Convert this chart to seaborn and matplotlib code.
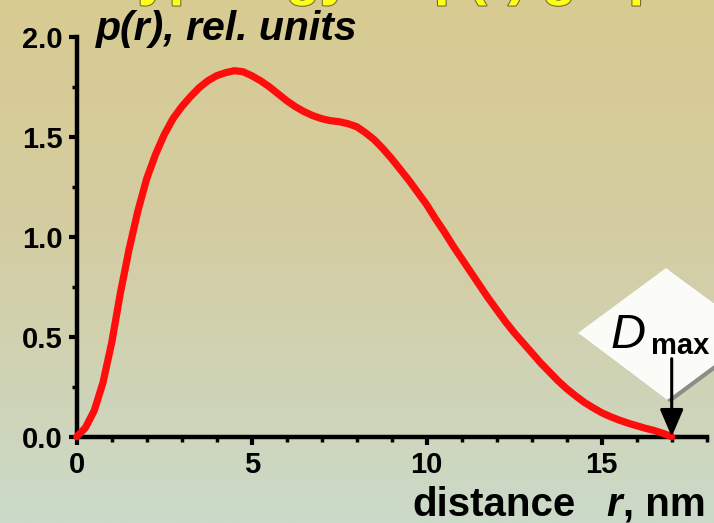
import numpy as np
import matplotlib
matplotlib.use("Agg")
import matplotlib.pyplot as plt
import seaborn as sns
from matplotlib.patches import Polygon
from matplotlib.colors import LinearSegmentedColormap
from matplotlib.ticker import FixedLocator, MultipleLocator
import matplotlib.patheffects as pe

# Pair-distance distribution p(r) of the particle
distance_nm = [0.0, 0.25, 0.5, 0.75, 1.0, 1.25, 1.5, 1.75, 2.0, 2.25, 2.5, 2.75,
               3.0, 3.25, 3.5, 3.75, 4.0, 4.25, 4.5, 4.75, 5.0, 5.25, 5.5, 5.75,
               6.0, 6.25, 6.5, 6.75, 7.0, 7.25, 7.5, 7.75, 8.0, 8.25, 8.5, 8.75,
               9.0, 9.25, 9.5, 9.75, 10.0, 10.25, 10.5, 10.75, 11.0, 11.25, 11.5,
               11.75, 12.0, 12.25, 12.5, 12.75, 13.0, 13.25, 13.5, 13.75, 14.0,
               14.25, 14.5, 14.75, 15.0, 15.25, 15.5, 15.75, 16.0, 16.25, 16.5,
               16.75, 17.0]
p_r = [0.0, 0.045, 0.13, 0.27, 0.47, 0.72, 0.94, 1.13, 1.29, 1.41, 1.51, 1.59,
       1.65, 1.70, 1.745, 1.78, 1.805, 1.82, 1.83, 1.825, 1.805, 1.78, 1.75, 1.715,
       1.68, 1.65, 1.625, 1.605, 1.59, 1.58, 1.575, 1.565, 1.55, 1.52, 1.485, 1.44,
       1.39, 1.335, 1.28, 1.22, 1.16, 1.09, 1.025, 0.955, 0.89, 0.825, 0.76,
       0.695, 0.635, 0.575, 0.52, 0.47, 0.42, 0.37, 0.325, 0.28, 0.24,
       0.205, 0.172, 0.145, 0.12, 0.10, 0.083, 0.068, 0.055, 0.042, 0.031,
       0.017, 0.0]
d_max = 17.0

x_ticks = [0, 5, 10, 15]
y_ticks = [0.0, 0.5, 1.0, 1.5, 2.0]
y_tick_labels = ["0.0", "0.5", "1.0", "1.5", "2.0"]

sns.set_theme(style="ticks")
plt.rcParams["font.family"] = ["Liberation Sans", "DejaVu Sans"]
plt.rcParams["font.weight"] = "bold"

W, H = 714, 523
fig = plt.figure(figsize=(W / 100, H / 100), dpi=100)


def fx(px):
    return px / W


def fy(py):
    return 1 - py / H


# Slide-style vertical gradient backdrop
bg = fig.add_axes([0, 0, 1, 1], zorder=-10)
bg.axis("off")
grad = np.linspace(0, 1, 256)[:, None]
bg_cmap = LinearSegmentedColormap.from_list(
    "backdrop", [(0.0, "#d8cb92"), (0.45, "#d4cda2"), (1.0, "#cbdac9")])
bg.imshow(grad, cmap=bg_cmap, aspect="auto", extent=[0, 1, 0, 1], origin="upper")

ax = fig.add_axes([fx(76.7), fy(436.7), 630 / W, 400 / H])
ax.patch.set_alpha(0)

# White label card with a grey shadow along its lower-right edge
card = [(fx(578), fy(333)), (fx(666), fy(268)), (fx(756), fy(334)), (fx(667), fy(400))]
shadow = [(x + 3.5 / W, y - 2.6 / H) for x, y in card]
ax.add_patch(Polygon(shadow, closed=True, transform=fig.transFigure,
                     facecolor="#8c8c88", edgecolor="none", clip_on=False, zorder=1))
ax.add_patch(Polygon(card, closed=True, transform=fig.transFigure,
                     facecolor="#fbfbf8", edgecolor="none", clip_on=False, zorder=1.2))

sns.lineplot(x=distance_nm, y=p_r, ax=ax, color="#ff0c0c", lw=5.2,
             solid_capstyle="round", solid_joinstyle="round", zorder=3)
for ln in ax.lines:
    ln.set_clip_on(False)

ax.annotate("", xy=(d_max, 0.0), xytext=(d_max, 0.39),
            arrowprops=dict(arrowstyle="-|>,head_length=1.4,head_width=0.6",
                            color="black", lw=2.2, shrinkA=0, shrinkB=0),
            annotation_clip=False, zorder=5)

ax.text(fx(611), fy(348), "D", transform=fig.transFigure, fontsize=35,
        fontstyle="italic", fontweight="normal", color="black", va="baseline", zorder=6)
ax.text(fx(651), fy(354), "max", transform=fig.transFigure, fontsize=21,
        fontweight="bold", color="black", va="baseline", zorder=6)

ax.set_xlim(0, 18)
ax.set_ylim(0, 2.0)
ax.xaxis.set_major_locator(FixedLocator(x_ticks))
ax.xaxis.set_minor_locator(MultipleLocator(1))
ax.yaxis.set_major_locator(FixedLocator(y_ticks))
ax.yaxis.set_minor_locator(MultipleLocator(0.25))
ax.set_yticklabels(y_tick_labels)
ax.set_xlabel("")
ax.set_ylabel("")

for side in ("top", "right"):
    ax.spines[side].set_visible(False)
for side in ("left", "bottom"):
    ax.spines[side].set_linewidth(3.2)
    ax.spines[side].set_color("black")
    ax.spines[side].set_capstyle("projecting")

ax.tick_params(which="major", direction="out", length=6, width=3, color="black",
               labelsize=21, labelcolor="black")
ax.tick_params(axis="x", which="major", pad=4)
ax.tick_params(axis="y", which="major", pad=4)
ax.tick_params(which="minor", direction="out", length=3.5, width=2.5, color="black")
for lbl in ax.get_xticklabels() + ax.get_yticklabels():
    lbl.set_fontweight("bold")

fig.text(fx(96), fy(40), "p(r), rel. units", fontsize=29.5, fontstyle="italic",
         fontweight="bold", color="black", va="baseline")

# x-axis title built from upright and italic pieces
fig.text(fx(412), fy(516), "distance", fontsize=29, fontweight="bold",
         color="black", va="baseline")
fig.text(fx(606), fy(516), "r", fontsize=29, fontweight="bold", fontstyle="italic",
         color="black", va="baseline")
fig.text(fx(623), fy(516), ", nm", fontsize=29, fontweight="bold",
         color="black", va="baseline")

fig.text(fx(108), fy(-6), "Typology of p(r) graphs", fontsize=40, fontweight="bold",
         color="#ffff1a", va="baseline",
         path_effects=[pe.withStroke(linewidth=1.5, foreground="#6a6a30")])

fig.savefig("out.png", dpi=100)
